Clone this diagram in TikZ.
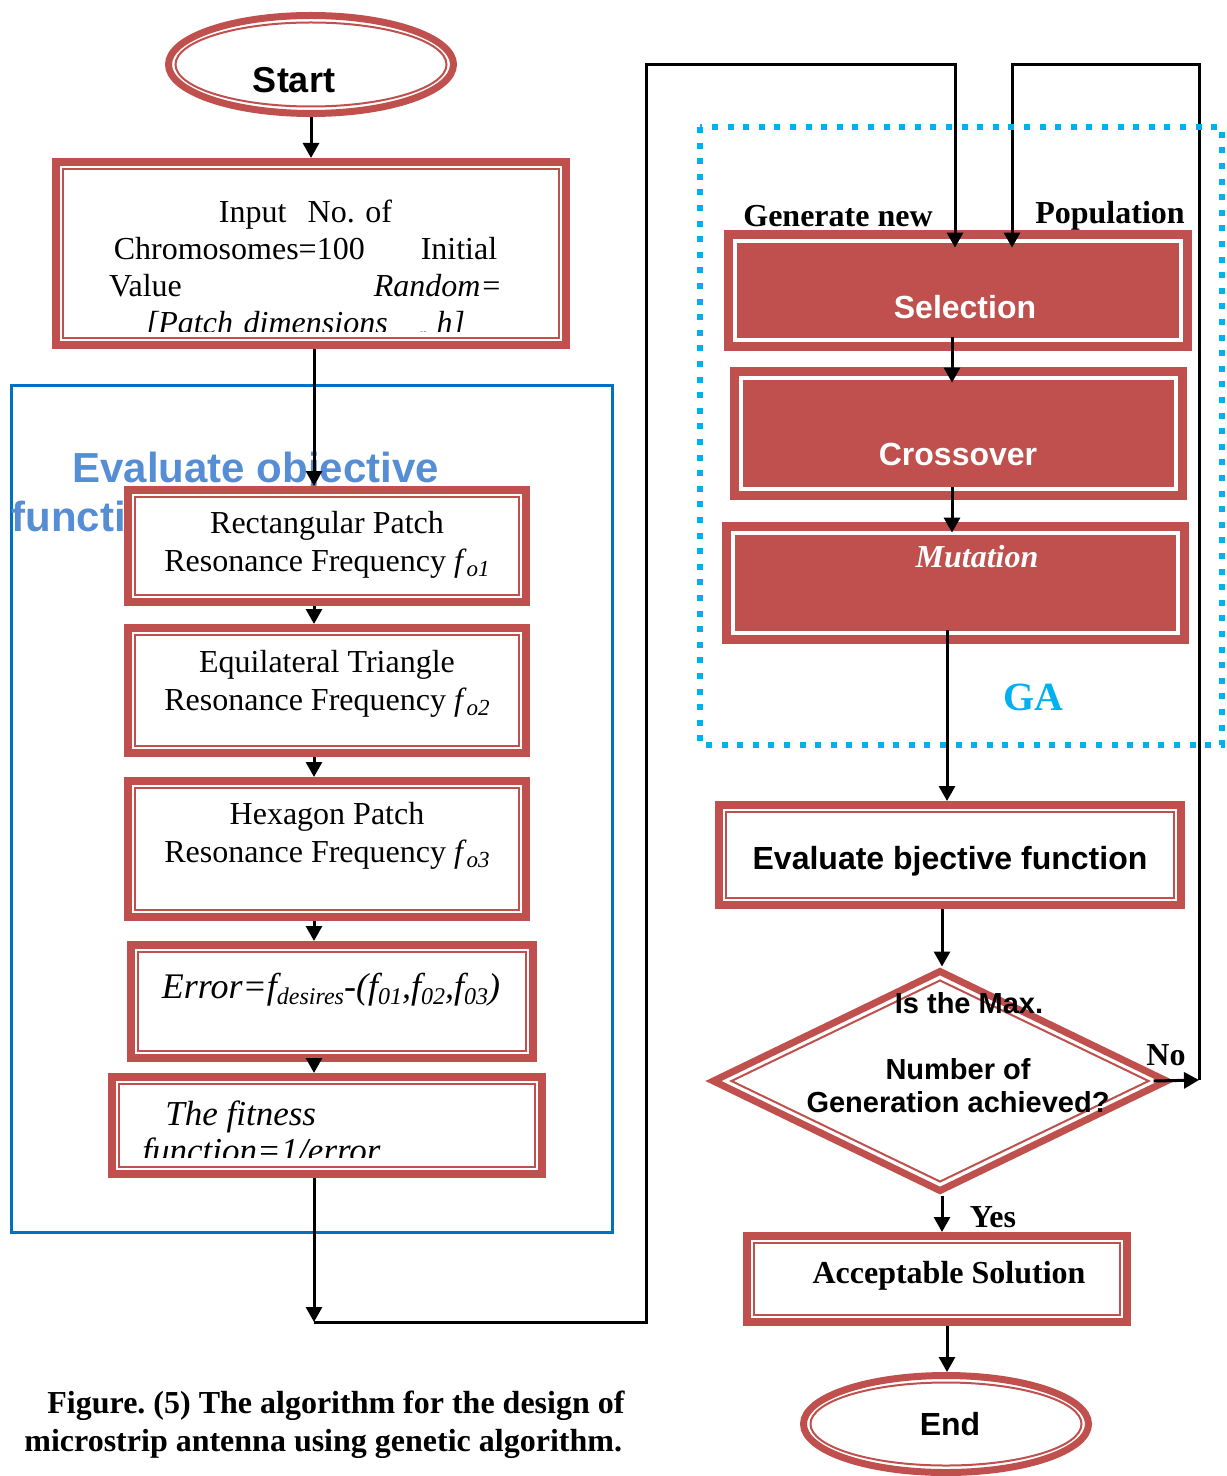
\documentclass[tikz,border=0pt]{standalone}
\usepackage{fontspec}
\setmainfont{Liberation Serif}
\setsansfont{Liberation Sans}
\usetikzlibrary{shapes.geometric,arrows.meta,calc}
\definecolor{boxred}{RGB}{192,80,77}
\definecolor{frameblue}{RGB}{0,112,192}
\definecolor{gacyan}{RGB}{0,176,240}
\definecolor{evalblue}{RGB}{85,142,213}
\newcommand{\fsub}[2][11.5]{\raisebox{-0.35ex}{\fontsize{#1}{#1}\selectfont\textit{#2}}}
\frenchspacing
\begin{document}
\begin{tikzpicture}[x=0.5pt,y=-0.5pt,
  redbox/.style={rectangle, draw=boxred, line width=4pt, fill=white, inner sep=0pt,
    path picture={\draw[boxred,line width=1pt] ([shift={(3.5pt,3.5pt)}]path picture bounding box.south west) rectangle ([shift={(-3.5pt,-3.5pt)}]path picture bounding box.north east);}},
  gabox/.style={rectangle, fill=boxred, draw=none, inner sep=0pt,
    path picture={\draw[white,line width=2pt] ([shift={(5.5pt,5.5pt)}]path picture bounding box.south west) rectangle ([shift={(-5.5pt,-5.5pt)}]path picture bounding box.north east);}},
  ovalbox/.style={ellipse, draw=boxred, line width=3.5pt, fill=white, inner sep=0pt,
    path picture={\draw[boxred,line width=1pt] let \p1=(path picture bounding box.north east), \p2=(path picture bounding box.center) in (\p2) ellipse [x radius={\x1-\x2-3.5pt}, y radius={\y1-\y2-3.5pt}];}},
  diabox/.style={diamond, draw=boxred, line width=3.5pt, fill=white, inner sep=0pt,
    path picture={\draw[boxred,line width=1pt] let \p1=(path picture bounding box.north east), \p2=(path picture bounding box.south west), \p3=(path picture bounding box.center) in (\x3,\y1-4.5pt) -- (\x1-9pt,\y3) -- (\x3,\y2+4.5pt) -- (\x2+9pt,\y3) -- cycle;}},
  txt/.style={inner sep=0pt, align=center},
  arr/.style={line width=1.5pt, -{Triangle[width=8pt,length=7.5pt]}},
]
\fontsize{16}{19}\selectfont
\useasboundingbox (0,0) rectangle (1226,1476);

% blue frame and its label
\draw[frameblue, line width=1.5pt] (11,385) rectangle (612,1232);
\node[inner sep=0pt, anchor=base west, text=evalblue, font=\sffamily\bfseries\fontsize{21}{25}\selectfont] (evl1) at (72,482) {Evaluate objective};
\node[inner sep=0pt, anchor=base west, text=evalblue, font=\sffamily\bfseries\fontsize{21}{25}\selectfont] (evl2) at (11,531) {function};

% left column
\node[ovalbox, minimum width=142.5pt, minimum height=49pt] (start) at (311,64.5) {};
\node[txt, font=\sffamily\bfseries\fontsize{18}{21}\selectfont] (t-start) at (294,80) {Start};

\node[redbox, minimum width=255pt, minimum height=91.5pt] (input) at (311,253.5) {};
\begin{scope}
\clip (62,168) rectangle (560,332);
\node[txt, text width=196.5pt, anchor=north, font=\fontsize{16}{18.5}\selectfont] (t-input) at (305.5,200) {Input\ \ No. of\\Chromosomes=100\hspace{28pt}Initial\\Value\hfill\textit{Random=}\\\textit{[Patch dimensions\quad\fsub[8]{r} h]}};
\end{scope}

\node[redbox, minimum width=199pt, minimum height=56pt] (rect) at (327,546) {};
\node[txt] (t-rect) at (327,545) {Rectangular Patch\\Resonance Frequency \textit{f}\fsub{o1}};

\node[redbox, minimum width=199pt, minimum height=62.5pt] (tri) at (327,690.5) {};
\node[txt] (t-tri) at (327,684) {Equilateral Triangle\\Resonance Frequency \textit{f}\fsub{o2}};

\node[redbox, minimum width=199pt, minimum height=68pt] (hex) at (327,849) {};
\node[txt] (t-hex) at (327,836) {Hexagon Patch\\Resonance Frequency \textit{f}\fsub{o3}};

\node[redbox, minimum width=201pt, minimum height=56.5pt] (err) at (332,1001.5) {};
\node[txt, font=\itshape\fontsize{18}{21}\selectfont] (t-err) at (331,990) {Error=f\fsub[12]{desires}-(f\fsub[12]{01},f\fsub[12]{02},f\fsub[12]{03})};

\node[redbox, minimum width=215pt, minimum height=48.5pt] (fit) at (327,1125.5) {};
\begin{scope}
\clip (118,1082) rectangle (536,1157);
\node[inner sep=0pt, align=left, anchor=north west, font=\itshape\fontsize{17.5}{18.5}\selectfont] (t-fit) at (142,1100) {\hspace*{11.5pt}The fitness\\function=1/error};
\end{scope}

% right column
\node[txt, font=\bfseries] (t-gen) at (838,216) {Generate new};
\node[txt, font=\bfseries] (t-pop) at (1110,216) {Population};

\node[gabox, minimum width=234pt, minimum height=60.5pt] (sel) at (958,290.5) {};
\node[txt, text=white, font=\sffamily\bfseries] (t-sel) at (965,307) {Selection};

\node[gabox, minimum width=228.5pt, minimum height=66.5pt] (cro) at (958.5,433.5) {};
\node[txt, text=white, font=\sffamily\bfseries] (t-cro) at (958,454) {Crossover};

\node[gabox, minimum width=233.5pt, minimum height=61pt] (mut) at (955.5,583) {};
\node[txt, text=white, font=\bfseries\itshape] (t-mut) at (977,557) {Mutation};

\node[txt, text=gacyan, font=\bfseries\fontsize{20}{24}\selectfont] (t-ga) at (1033,697) {GA};

\node[redbox, minimum width=231pt, minimum height=50pt] (eval) at (950,855) {};
\node[txt, font=\sffamily\bfseries] (t-eval) at (950,861) {Evaluate bjective function};

\node[diabox, minimum width=228pt, minimum height=111pt] (dia) at (940,1081) {};
\node[txt, font=\sffamily\bfseries\fontsize{14.5}{16.5}\selectfont] (t-dia) at (958,1053) {\hspace*{11pt}Is the Max.\\[16.5pt]Number of\\Generation achieved?};
\node[txt, font=\bfseries] (t-no) at (1166,1055) {No};
\node[txt, font=\bfseries] (t-yes) at (993,1217) {Yes};

\node[redbox, minimum width=190pt, minimum height=43pt] (acc) at (937,1279) {};
\node[txt, font=\bfseries] (t-acc) at (949,1276) {Acceptable Solution};

\node[ovalbox, minimum width=142.5pt, minimum height=48.5pt] (end) at (946,1424) {};
\node[txt, font=\sffamily\bfseries] (t-end) at (950,1424) {End};

% caption
\node[inner sep=0pt, align=left, anchor=north west, font=\bfseries] (cap) at (24,1391) {\hspace*{11.5pt}Figure. (5) The algorithm for the design of\\microstrip antenna using genetic algorithm.};

% connectors
\coordinate (xL) at (314,0);
\coordinate (xS) at (952,0);
\coordinate (xM) at (947,0);
\coordinate (xR) at (942,0);
\coordinate (c1) at (314,1322);
\coordinate (c2) at (646,1322);
\coordinate (c3) at (646,65);
\coordinate (c4) at (955,65);
\coordinate (n1) at (1199,1080);
\coordinate (n2) at (1199,65);
\coordinate (n3) at (1012,65);

\draw[arr] (start.south) -- (input.north);
\draw[arr] (input.south -| xL) -- (rect.north -| xL);
\draw[arr] (rect.south -| xL) -- (tri.north -| xL);
\draw[arr] (tri.south -| xL) -- (hex.north -| xL);
\draw[arr] (hex.south -| xL) -- (err.north -| xL);
\draw[arr] (err.south -| xL) -- (fit.north -| xL);
\draw[arr] (fit.south -| xL) -- (c1);
\draw[arr] (c1) -- (c2) -- (c3) -- (c4) -- ([yshift=-9pt]sel.north -| c4);

\draw[arr] ([yshift=7pt]sel.south -| xS) -- ([yshift=-8pt]cro.north -| xS);
\draw[arr] ([yshift=6.5pt]cro.south -| xS) -- ([yshift=-5.5pt]mut.north -| xS);
\draw[arr] ([yshift=7pt]mut.south -| xM) -- (eval.north -| xM);
\draw[arr] (eval.south -| xR) -- (dia.north -| xR);
\draw[arr] (dia.south -| xR) -- (acc.north -| xR);
\draw[arr] (acc.south -| xM) -- (end.north -| xM);

\draw[arr] ([xshift=-9pt]dia.east) -- (n1);
\draw[arr] (n1) -- (n2) -- (n3) -- ([yshift=-9pt]sel.north -| n3);

% GA dotted frame
\draw[gacyan, line width=3pt, dash pattern=on 3pt off 4.8pt] (700,127) rectangle (1222,745);
\end{tikzpicture}
\end{document}
